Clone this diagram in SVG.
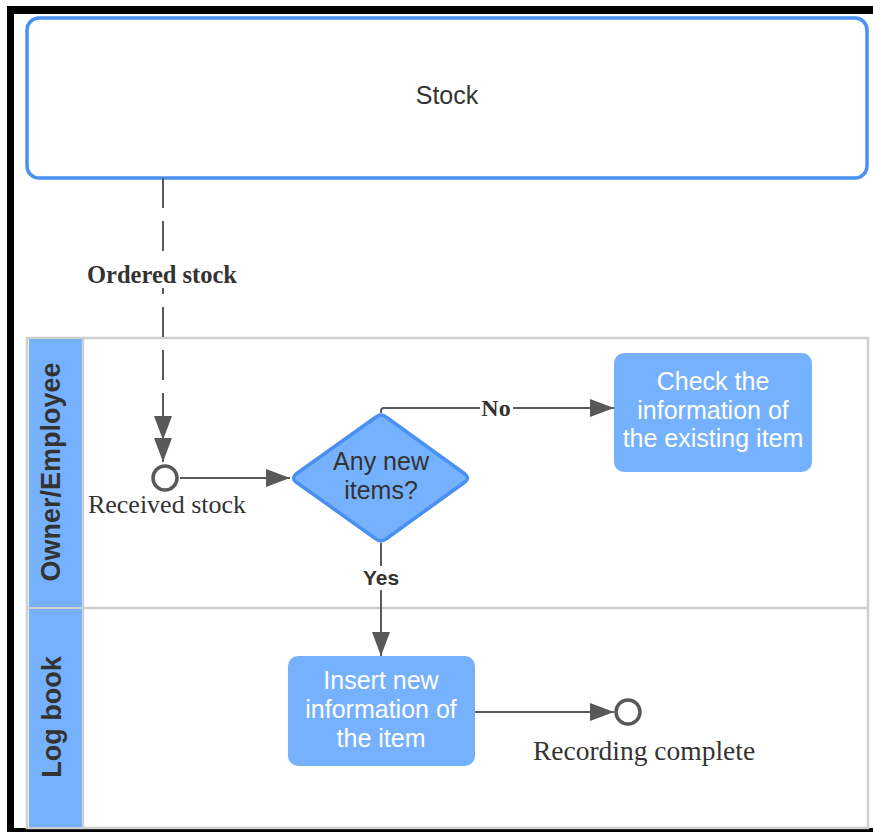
<svg xmlns="http://www.w3.org/2000/svg" width="873" height="832" viewBox="0 0 873 832">
<defs>
<style>
.frame{fill:#000}
.pool{fill:#fff;stroke:#4a90f0;stroke-width:3.5}
.lane{fill:#fff;stroke:#cfcfcf;stroke-width:2.5}
.hdr{fill:#76b1fe}
.task{fill:#76b1fe;stroke:none}
.dia{fill:#76b1fe;stroke:#4a90f0;stroke-width:3.5;stroke-linejoin:round}
.ev{fill:#fff;stroke:#595959;stroke-width:3.5}
.con{fill:none;stroke:#595959;stroke-width:2}
.dash{stroke-dasharray:30 13}
.sans{font-family:"Liberation Sans",Arial,sans-serif}
.serif{font-family:"Liberation Serif","Times New Roman",serif}
.dark{fill:#333}
.white{fill:#fff}
.lbl{font-size:25px;text-anchor:middle}
.lanelbl{font-size:27px;font-weight:bold;fill:#333;text-anchor:middle}
</style>
<marker id="ah" markerUnits="userSpaceOnUse" markerWidth="24" markerHeight="18" refX="24" refY="9" orient="auto">
<path d="M0,0 L24,9 L0,18 Z" fill="#595959"/>
</marker>
</defs>
<rect width="873" height="832" fill="#fff"/>
<g id="frame">
<rect class="frame" x="7" y="6" width="866" height="8"/>
<rect class="frame" x="7" y="6" width="7" height="826"/>
<rect class="frame" x="7" y="828" width="866" height="4"/>
</g>
<g id="stock">
<rect class="pool" x="27" y="18" width="840" height="160" rx="12"/>
<text class="sans dark lbl" x="447" y="104">Stock</text>
</g>
<g id="lanes">
<rect class="lane" x="27" y="338" width="841" height="490"/>
<line class="lane" x1="27" y1="608" x2="868" y2="608"/>
<rect class="hdr" x="29" y="339" width="53" height="268"/>
<rect class="hdr" x="29" y="609" width="53" height="218"/>
<line class="lane" x1="83" y1="338" x2="83" y2="828"/>
</g>
<g id="lane-owner">
<text class="sans lanelbl" transform="translate(60,472) rotate(-90)" font-size="26.5">Owner/Employee</text>
</g>
<g id="lane-logbook">
<text class="sans lanelbl" transform="translate(61,717) rotate(-90)">Log book</text>
</g>
<g id="connectors">
<path class="con dash" d="M163,178 V440" marker-end="url(#ah)"/>
<path class="con" d="M163,440 V462" marker-end="url(#ah)"/>
<rect x="85" y="262" width="154" height="26" fill="#fff"/>
<text class="serif dark" x="162" y="283" font-size="24.5" font-weight="bold" text-anchor="middle">Ordered stock</text>
<path class="con" d="M180,478 H290" marker-end="url(#ah)"/>
<path class="con" d="M381,413 V411 Q381,408 384,408 H614" marker-end="url(#ah)"/>
<rect x="480" y="396" width="33" height="24" fill="#fff"/>
<text class="serif dark" x="496" y="416" font-size="24" font-weight="bold" text-anchor="middle">No</text>
<path class="con" d="M381,543 V656" marker-end="url(#ah)"/>
<rect x="361" y="566" width="40" height="24" fill="#fff"/>
<text class="sans dark" x="381" y="585" font-size="21" font-weight="bold" text-anchor="middle">Yes</text>
<path class="con" d="M475,712 H614" marker-end="url(#ah)"/>
</g>
<g id="received-stock">
<circle class="ev" cx="165" cy="478" r="12"/>
<text class="serif dark" x="167" y="513" font-size="26" text-anchor="middle">Received stock</text>
</g>
<g id="decision">
<path class="dia" d="M376,417 Q381,413 386,417 L465,474 Q470,478 465,482 L386,539 Q381,543 376,539 L296,482 Q291,478 296,474 Z"/>
<text class="sans dark lbl" x="381" y="470">Any new</text>
<text class="sans dark lbl" x="381" y="499">items?</text>
</g>
<g id="check-existing">
<rect class="task" x="614" y="353" width="198" height="119" rx="10"/>
<text class="sans white lbl" x="713" y="390">Check the</text>
<text class="sans white lbl" x="713" y="419">information of</text>
<text class="sans white lbl" x="713" y="447">the existing item</text>
</g>
<g id="insert-new">
<rect class="task" x="288" y="656" width="187" height="110" rx="10"/>
<text class="sans white lbl" x="381" y="689">Insert new</text>
<text class="sans white lbl" x="381" y="718">information of</text>
<text class="sans white lbl" x="381" y="747">the item</text>
</g>
<g id="recording-complete">
<circle class="ev" cx="628" cy="712" r="12"/>
<text class="serif dark" x="644" y="760" font-size="27.5" text-anchor="middle">Recording complete</text>
</g>
</svg>
